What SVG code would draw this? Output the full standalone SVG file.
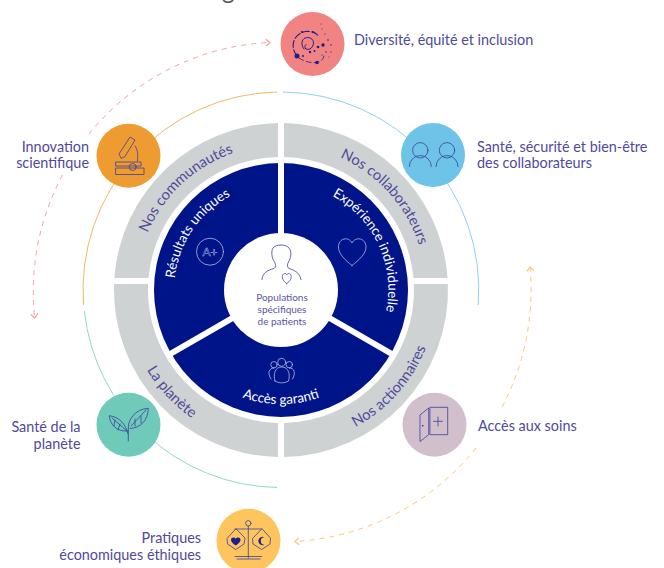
<svg xmlns="http://www.w3.org/2000/svg" width="664" height="568" viewBox="0 0 664 568">
<style>
text{font-family:"Lato","Open Sans",sans-serif}
.lb{font-size:14.4px;fill:#514a9c}
.end{text-anchor:end}
.cg{font-size:14.8px;fill:#514a9c;text-anchor:middle}
.cw{font-size:13.5px;fill:#fff;text-anchor:middle}
.ct{font-size:10px;fill:#5a54a4;text-anchor:middle}
.ring{fill:#cfd2d3}
.ic{fill:none;stroke:#3a3f9c;stroke-width:.8;stroke-linecap:round;stroke-linejoin:round}
.icw{fill:none;stroke:#c9cfee;stroke-width:.7;stroke-linecap:round;stroke-linejoin:round}
.d{fill:#1d1f8c}
.arc{fill:none;stroke-width:1}
.dash{fill:none;stroke-width:1;stroke-dasharray:5 5}
</style>
<defs>
<marker id="ap" markerUnits="userSpaceOnUse" markerWidth="10" markerHeight="10" refX="6" refY="5" orient="auto"><path d="M2 1.500L6 5L2 8.500" fill="none" stroke="#f29c9c" stroke-width="1.200"/></marker>
<marker id="ay" markerUnits="userSpaceOnUse" markerWidth="10" markerHeight="10" refX="6" refY="5" orient="auto"><path d="M2 1.500L6 5L2 8.500" fill="none" stroke="#fcc96f" stroke-width="1.200"/></marker>
<path id="p-comm" d="M159.400 369A145 145 0 0 1 368.300 174.200"/>
<path id="p-coll" d="M204.200 167A145 145 0 0 1 395.300 379.300"/>
<path id="p-res" d="M206.700 367A107 107 0 0 1 324.500 192.300"/>
<path id="p-exp" d="M253.300 186.600A107 107 0 0 1 342.400 377.700"/>
<path id="p-act" d="M203 425.100A156 156 0 0 0 400.500 189.700"/>
<path id="p-pla" d="M156.400 196.100A156 156 0 0 0 366 420.800"/>
<path id="p-acc" d="M168.700 309.800A114 114 0 0 0 393.300 309.800"/>
</defs>
<text x="222" y="-1" font-size="24" fill="#555">g</text>
<g id="connectors">
<path class="arc" stroke="#f4b668" d="M83.600 305A198 198 0 0 1 277 92"/>
<path class="arc" stroke="#8ed2ef" d="M283 92A198 198 0 0 1 478.200 305"/>
<path class="arc" stroke="#8fd8ca" d="M84.400 311A197.500 197.500 0 0 0 277 487.500"/>
<path class="dash" stroke="#f4a3a3" marker-end="url(#ap)" d="M89 134A247 247 0 0 1 270 42.500"/>
<path class="dash" stroke="#f4a3a3" marker-end="url(#ap)" d="M62.500 175A247 247 0 0 0 34.700 318"/>
<path class="dash" stroke="#fcc96f" marker-end="url(#ay)" d="M502 407A250 250 0 0 0 530 267"/>
<path class="dash" stroke="#fcc96f" marker-end="url(#ay)" d="M476 448A250 250 0 0 1 295 541.500"/>
</g>
<g id="ring-communautes"><path class="ring" d="M114.400 278A167 167 0 0 1 278 123V157A133 133 0 0 0 148.500 278Z"/><text class="cg"><textPath href="#p-comm" startOffset="50%">Nos communautés</textPath></text></g>
<g id="ring-collaborateurs"><path class="ring" d="M284 123A167 167 0 0 1 447.600 278H413.500A133 133 0 0 0 284 157Z"/><text class="cg"><textPath href="#p-coll" startOffset="50%">Nos collaborateurs</textPath></text></g>
<g id="ring-planete"><path class="ring" d="M114.100 284A167 167 0 0 0 278 457V423A133 133 0 0 1 148.100 284Z"/><text class="cg"><textPath href="#p-pla" startOffset="50%">La planète</textPath></text></g>
<g id="ring-actionnaires"><path class="ring" d="M284 457A167 167 0 0 0 447.900 284H413.900A133 133 0 0 1 284 423Z"/><text class="cg"><textPath href="#p-act" startOffset="49%">Nos actionnaires</textPath></text></g>
<g id="core">
<circle cx="281" cy="290" r="127" fill="#001489"/>
<path d="M281 290V160M281 290L168.400 355M281 290L393.600 355" stroke="#fff" stroke-width="6" fill="none"/>
</g>
<g id="seg-resultats">
<text class="cw"><textPath href="#p-res" startOffset="50%">Résultats uniques</textPath></text>
<circle class="icw" cx="210" cy="251.700" r="13.500"/>
<text x="210" y="256" font-size="12" text-anchor="middle" fill="none" stroke="#c9cfee" stroke-width=".4">A+</text>
</g>
<g id="seg-experience">
<text class="cw"><textPath href="#p-exp" startOffset="50%">Expérience individuelle</textPath></text>
<path class="icw" d="M352 265.500C345 260 338.500 254 338.500 247C338.500 238 348.500 236 352 243C355.500 236 366 238 366 247C366 254 359 260 352 265.500Z"/>
</g>
<g id="seg-acces">
<text class="cw"><textPath href="#p-acc" startOffset="50%">Accès garanti</textPath></text>
<circle class="icw" cx="281.700" cy="362.300" r="4"/><circle class="icw" cx="274" cy="364.700" r="3.200"/><circle class="icw" cx="289.300" cy="364.700" r="3.200"/>
<path class="icw" d="M271 379C267 373 269 368 274 368M292.500 379C296 373 294.500 368 289.500 368M275 381C273 374 275 367 281.700 367C288.500 367 290.500 374 288.500 381C284 383.500 279 383.500 275 381Z"/>
</g>
<g id="center">
<circle cx="281" cy="290" r="57" fill="#fff"/>
<path class="ic" d="M262 279.500C262.500 273 267 270.500 274 268.500C276 267.500 276 264 274.500 262C271.500 258 271 251 273 248C276 244 286 244 289 248C292 251.500 291 258 288.500 262C287 264.500 287 267.500 289 268.500C295 270.500 300 273 301 279.500"/>
<path class="ic" d="M286.700 283.500C283 281 282.300 278.500 282.300 276.500C282.300 273.500 285.500 272.500 286.700 274.800C288 272.500 291.200 273.500 291.200 276.500C291.200 278.500 290.500 281 286.700 283.500Z"/>
<text class="ct" x="282" y="301">Populations</text>
<text class="ct" x="282" y="313">spécifiques</text>
<text class="ct" x="282" y="325">de patients</text>
</g>
<g id="node-diversite">
<circle cx="312.500" cy="44" r="32" fill="#f28383"/>
<g fill="none" stroke="#1d1f8c" stroke-linecap="round">
<path stroke-width="1.100" stroke-dasharray="7 2.500" d="M297 56C289 46 294 33 306 31.500C312 31 317 33 319 37"/>
<path stroke-width=".8" stroke-dasharray="5 3" d="M299 58C305 62 311 63 317 62.500C320 62 323 60 324 56"/>
<path stroke-width="1" d="M304 49C300 44 302 37.500 307.500 37.500C312.500 37.500 315 42 312.500 46.500C311 49 308.500 50 306 49C304.500 48 304.500 45.500 306 44.500"/>
</g>
<g class="d"><circle cx="297" cy="56" r="2.500"/><circle cx="317" cy="62.500" r="1.800"/><circle cx="323" cy="45" r="1.700"/><circle cx="318" cy="47" r="1.300"/><circle cx="310" cy="52" r="1.200"/><circle cx="314.500" cy="51" r="1"/><circle cx="302" cy="32" r="1.100"/><circle cx="313" cy="32" r="1.100"/><circle cx="303" cy="56" r="1"/><circle cx="328" cy="40" r=".8"/><circle cx="331" cy="45" r=".7"/><circle cx="325" cy="34" r=".6"/><circle cx="326" cy="52" r=".7"/><circle cx="321" cy="24" r=".5"/><circle cx="322" cy="29" r=".5"/><circle cx="331" cy="52" r=".6"/><circle cx="322" cy="55" r=".6"/><circle cx="329" cy="57" r=".5"/></g>
</g>
<text class="lb" x="354" y="45">Diversité, équité et inclusion</text>
<g id="node-innovation">
<circle cx="128.500" cy="155.700" r="32" fill="#ee9c31"/>
<path class="ic" d="M121 158L119 154L130 137L135 140L125 156.500ZM135 146C138 150 138 155 137.500 161M116 162H141V166H116ZM116 168H144V174.500H116Z"/>
<circle class="ic" cx="132.700" cy="167" r="3.500"/>
</g>
<text class="lb end" x="89" y="152">Innovation</text>
<text class="lb end" x="89" y="168">scientifique</text>
<g id="node-sante">
<circle cx="433" cy="155" r="32" fill="#6dc4e8"/>
<g class="ic"><circle cx="420.300" cy="150.300" r="7.700"/><circle cx="447" cy="150.300" r="7.700"/><path d="M409.300 166.500A11 11 0 0 1 431.300 166.500M436 166.500A11 11 0 0 1 458 166.500"/></g>
</g>
<text class="lb" x="477" y="152">Santé, sécurité et bien-être</text>
<text class="lb" x="477" y="168">des collaborateurs</text>
<g id="node-soins">
<circle cx="434.500" cy="424.700" r="32" fill="#d1c0cb"/>
<path class="ic" d="M430.300 407.300H447.700V434.700H430.300ZM420.300 414.700L428.700 408V434.700L420.300 441.300ZM438 417V426M433.500 421.300H442.500"/>
<circle cx="422.700" cy="425.700" r=".8" class="d"/>
</g>
<text class="lb" x="478" y="431">Accès aux soins</text>
<g id="node-planete">
<circle cx="128.500" cy="424.700" r="32" fill="#6fcaba"/>
<path class="ic" d="M128.300 441V428C128 420 135 409 148.300 408.300C148 420 141 428 130 428.500M128 434C126 425 120 417 109.300 415.700C110 425 117 432 128 431M112 418L127 431M146 410L131 426M141 416V423M135 419V426M115 420L114 426M120 424L118 430"/>
</g>
<text class="lb end" x="80.500" y="432">Santé de la</text>
<text class="lb end" x="80.500" y="449">planète</text>
<g id="node-pratiques">
<circle cx="248.500" cy="540.700" r="32" fill="#fec55f"/>
<circle class="ic" cx="248.300" cy="523.300" r="2.700"/>
<path class="ic" d="M248.300 526V558M235 529H261.700M235.700 529L227 538.500L227.500 544L235.700 549.500L244 544L245 538.500ZM261.700 529L252.500 538.500L253 544L261.700 549.500L270 544L270.500 538.500ZM235 556.500H261.700M237 559H260"/>
<path class="d" d="M235.700 545.500C232.500 543.500 231 541.500 231 539.700C231 537.200 234.500 536.500 235.700 538.800C237 536.500 240.500 537.200 240.500 539.700C240.500 541.500 239 543.500 235.700 545.500Z"/>
<path class="d" d="M264.500 537.300A4.200 4.200 0 1 0 264.500 544.700A3.500 3.500 0 1 1 264.500 537.300Z"/>
</g>
<text class="lb end" x="201" y="543">Pratiques</text>
<text class="lb end" x="201" y="560">économiques éthiques</text>
</svg>
